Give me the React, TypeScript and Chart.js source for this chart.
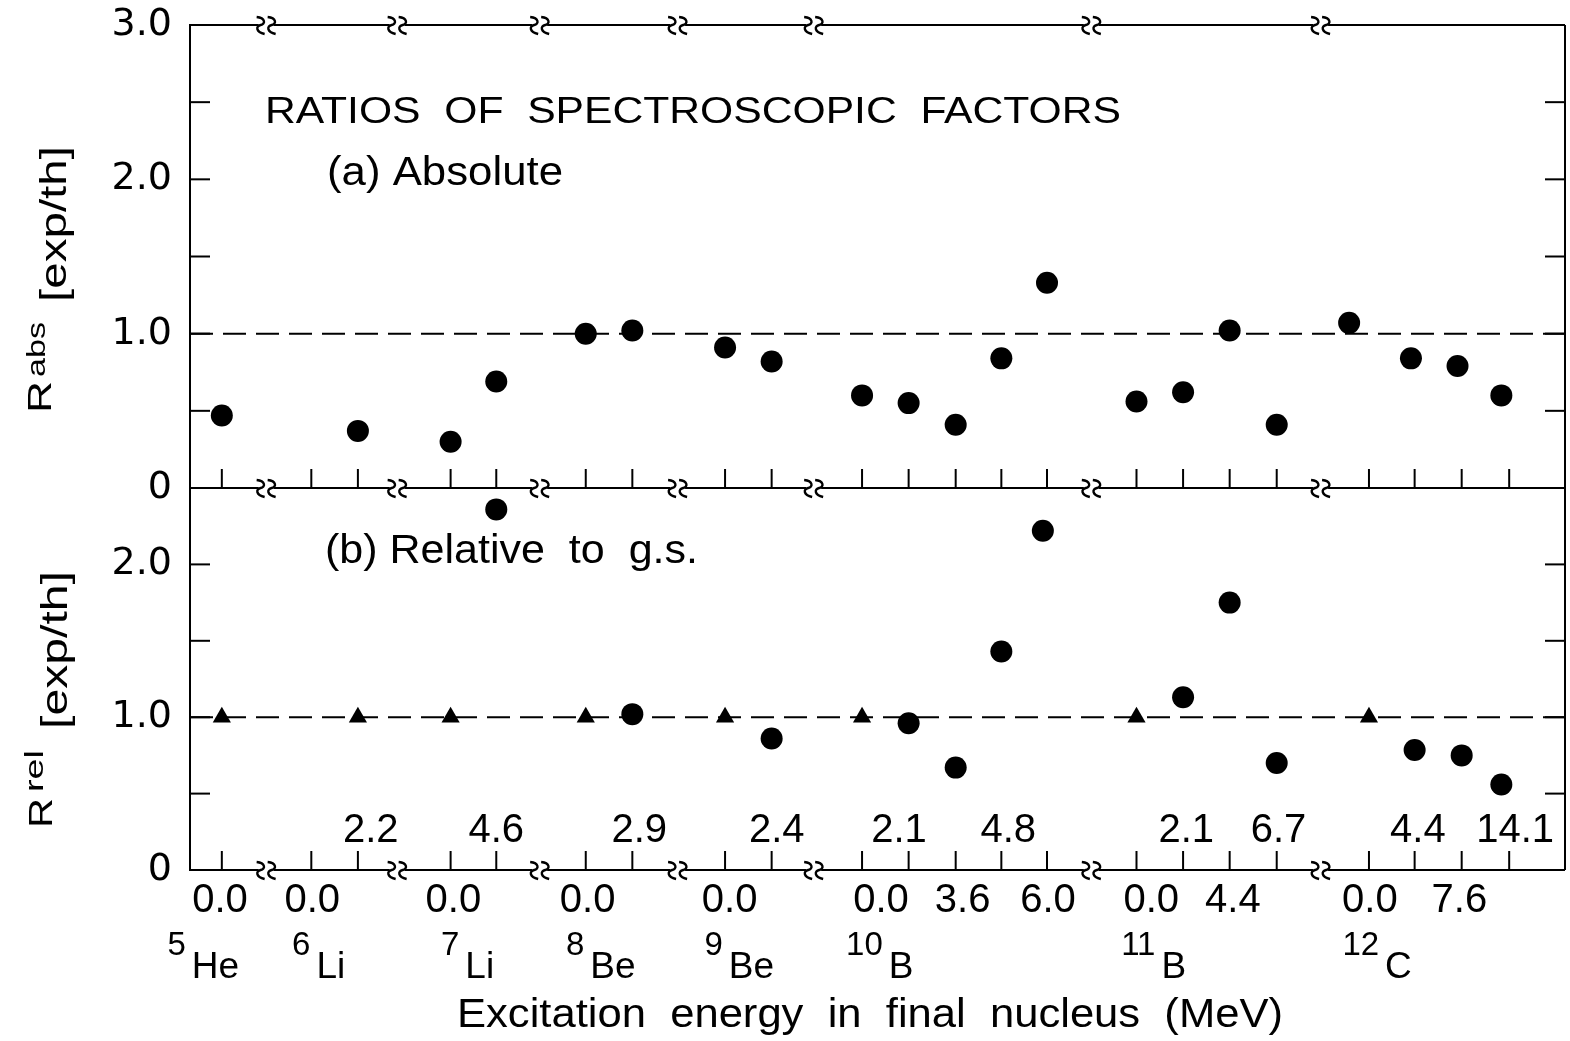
import React, { useEffect, useRef } from 'react';
import { Chart, registerables } from 'chart.js';

Chart.register(...registerables);

const FONT = '"Liberation Sans", Arial, sans-serif';
const TICK_FONT = '"DejaVu Sans", sans-serif';

// Positions along the (broken) excitation-energy axis, in "slot" units
const X_MIN = -0.69;
const X_MAX = 29.12;
const tickSlots = [0, 1.94, 2.95, 4.96, 5.95, 7.89, 8.9, 10.91, 11.92, 13.88, 14.89, 15.91, 16.9, 17.89, 19.83, 20.84, 21.85, 22.87, 24.87, 25.86, 26.88, 27.91];
const breakSlots = [0.95, 3.79, 6.88, 9.87, 12.82, 18.84, 23.81];

// (a) absolute ratios
const absSlots = [0, 2.95, 4.96, 5.95, 7.89, 8.9, 10.91, 11.92, 13.88, 14.89, 15.91, 16.9, 17.89, 19.83, 20.84, 21.85, 22.87, 24.44, 25.78, 26.79, 27.74];
const absValues = [0.47, 0.37, 0.3, 0.69, 1.0, 1.02, 0.91, 0.82, 0.6, 0.55, 0.41, 0.84, 1.33, 0.56, 0.62, 1.02, 0.41, 1.07, 0.84, 0.79, 0.6];

// (b) relative to ground state: g.s. reference triangles
const gsSlots = [0, 2.95, 4.96, 7.89, 10.91, 13.88, 19.83, 24.87];
const gsValues = [1, 1, 1, 1, 1, 1, 1, 1];

// (b) relative ratios of excited states
const relSlots = [5.95, 8.9, 11.92, 14.89, 15.91, 16.9, 17.8, 20.84, 21.85, 22.87, 25.86, 26.88, 27.74];
const relValues = [2.36, 1.02, 0.86, 0.96, 0.67, 1.43, 2.22, 1.13, 1.75, 0.7, 0.785, 0.75, 0.56];

// annotation texts
const upperEnergyLabels = ['2.2', '4.6', '2.9', '2.4', '2.1', '4.8', '2.1', '6.7', '4.4', '14.1'];
const upperEnergySlots = [3.23, 5.95, 9.05, 12.03, 14.68, 17.05, 20.91, 22.91, 25.93, 28.04];
const lowerEnergyLabels = ['0.0', '0.0', '0.0', '0.0', '0.0', '0.0', '3.6', '6.0', '0.0', '4.4', '0.0', '7.6'];
const lowerEnergySlots = [-0.04, 1.96, 5.02, 7.93, 11.01, 14.29, 16.06, 17.91, 20.15, 21.92, 24.89, 26.83];
const nucleusMass = ['5', '6', '7', '8', '9', '10', '11', '12'];
const nucleusElement = ['He', 'Li', 'Li', 'Be', 'Be', 'B', 'B', 'C'];
const nucleusSlots = [-0.65, 2.05, 5.28, 7.99, 10.99, 14.46, 20.37, 25.22];

const TITLE = 'RATIOS  OF  SPECTROSCOPIC  FACTORS';
const PANEL_A = '(a) Absolute';
const PANEL_B = '(b) Relative  to  g.s.';
const X_TITLE = 'Excitation  energy  in  final  nucleus  (MeV)';

function fitText(ctx: CanvasRenderingContext2D, s: string, x: number, y: number, size: number, width?: number, align: CanvasTextAlign = 'left', family: string = FONT) {
  ctx.font = `${size}px ${family}`;
  ctx.textBaseline = 'alphabetic';
  const w = ctx.measureText(s).width;
  const sx = width ? width / w : 1;
  ctx.save();
  ctx.translate(x, y);
  ctx.scale(sx, 1);
  ctx.textAlign = align;
  ctx.fillText(s, 0, 0);
  ctx.restore();
}

function line(ctx: CanvasRenderingContext2D, x1: number, y1: number, x2: number, y2: number) {
  ctx.beginPath();
  ctx.moveTo(x1, y1);
  ctx.lineTo(x2, y2);
  ctx.stroke();
}

function squiggle(ctx: CanvasRenderingContext2D, x: number, y: number) {
  ctx.beginPath();
  ctx.moveTo(x - 4, y - 8);
  ctx.bezierCurveTo(x + 5, y - 7, x + 5, y - 1, x, y);
  ctx.bezierCurveTo(x - 5, y + 1, x - 5, y + 7, x + 4, y + 9);
  ctx.stroke();
}

function yTitle(ctx: CanvasRenderingContext2D, bottom: number, parts: { s: string; size: number; base: number; len: number; gapBefore: number }[]) {
  let pos = bottom;
  parts.forEach((p) => {
    pos -= p.gapBefore;
    ctx.save();
    ctx.translate(p.base, pos);
    ctx.rotate(-Math.PI / 2);
    ctx.font = `${p.size}px ${FONT}`;
    ctx.textBaseline = 'alphabetic';
    ctx.textAlign = 'left';
    const w = ctx.measureText(p.s).width;
    ctx.scale(p.len / w, 1);
    ctx.fillText(p.s, 0, 0);
    ctx.restore();
    pos -= p.len;
  });
}

const decorPlugin = {
  id: 'decor',
  afterDraw(chart: any) {
    const ctx: CanvasRenderingContext2D = chart.ctx;
    const xs = chart.scales.x;
    const ya = chart.scales.ya;
    const yb = chart.scales.yb;
    const L = chart.chartArea.left;
    const R = chart.chartArea.right;
    const yTop = ya.getPixelForValue(3);
    const yMid = ya.getPixelForValue(0);
    const yBot = yb.getPixelForValue(0);
    ctx.save();
    ctx.strokeStyle = '#000';
    ctx.fillStyle = '#000';
    ctx.lineWidth = 2;

    // horizontal axes with breaks
    const breaksPx = breakSlots.map((v) => xs.getPixelForValue(v));
    [yTop, yMid, yBot].forEach((y) => {
      let start = L - 1;
      breaksPx.forEach((bx) => {
        line(ctx, start, y, bx - 7, y);
        ctx.lineWidth = 2.4;
        squiggle(ctx, bx - 5, y);
        squiggle(ctx, bx + 6, y);
        ctx.lineWidth = 2;
        start = bx + 8;
      });
      line(ctx, start, y, R, y);
    });

    // x ticks (pointing up, into each panel)
    tickSlots.forEach((v) => {
      const px = xs.getPixelForValue(v);
      [yMid, yBot].forEach((y) => line(ctx, px, y, px, y - 19));
    });

    // y ticks on left and right axes
    [ya, yb].forEach((s: any) => {
      for (let v = s.min + 0.5; v < s.max - 0.01; v += 0.5) {
        const py = s.getPixelForValue(v);
        line(ctx, L, py, L + 20, py);
        line(ctx, R - 20, py, R, py);
      }
    });
    line(ctx, R, yTop, R, yBot);

    // panel texts
    fitText(ctx, TITLE, 265, 123, 36, 856);
    fitText(ctx, PANEL_A, 327, 185, 41, 236);
    fitText(ctx, PANEL_B, 325, 563, 41, 373);

    // energies above the lower axis
    upperEnergyLabels.forEach((s, i) => {
      fitText(ctx, s, xs.getPixelForValue(upperEnergySlots[i]), 842, 40, undefined, 'center');
    });
    // energies below the lower axis
    lowerEnergyLabels.forEach((s, i) => {
      fitText(ctx, s, xs.getPixelForValue(lowerEnergySlots[i]), 912, 40, undefined, 'center');
    });
    // nuclei
    nucleusElement.forEach((el, i) => {
      const px = xs.getPixelForValue(nucleusSlots[i]);
      fitText(ctx, el, px, 978, 37, undefined, 'left');
      fitText(ctx, nucleusMass[i], px - 6, 955, 33, undefined, 'right');
    });

    fitText(ctx, X_TITLE, 457, 1027, 40, 826);

    // y-axis titles
    yTitle(ctx, 413, [
      { s: 'R', size: 33, base: 51, len: 32, gapBefore: 0 },
      { s: 'abs', size: 26, base: 45, len: 55, gapBefore: 4 },
      { s: '[exp/th]', size: 36, base: 66, len: 156, gapBefore: 20 },
    ]);
    yTitle(ctx, 828, [
      { s: 'R', size: 33, base: 52, len: 30, gapBefore: 0 },
      { s: 'rel', size: 26, base: 43, len: 42, gapBefore: 6 },
      { s: '[exp/th]', size: 36, base: 67, len: 158, gapBefore: 21 },
    ]);
    ctx.restore();
  },
};

function tickCb(value: any) {
  const v = Number(value);
  if (Math.abs(v - Math.round(v)) > 1e-6) return '';
  if (v === 0) return '0';
  return v.toFixed(1);
}

function fixFit(s: any) {
  s.width = 190;
  s.paddingTop = 0;
  s.paddingBottom = 0;
}

const yTicks = {
  stepSize: 0.5,
  autoSkip: false,
  color: '#000',
  padding: 18,
  font: { family: TICK_FONT, size: 38 },
  callback: tickCb,
};

export default function App() {
  const ref = useRef<HTMLCanvasElement>(null);
  useEffect(() => {
    const canvas = ref.current!;
    const pts = (xs: number[], ys: number[]) => xs.map((x, i) => ({ x, y: ys[i] }));
    const chart = new Chart(canvas, {
      type: 'scatter',
      data: {
        datasets: [
          {
            label: 'abs',
            data: pts(absSlots, absValues),
            yAxisID: 'ya',
            pointStyle: 'circle',
            pointRadius: 11,
            backgroundColor: '#000',
            borderColor: '#000',
            borderWidth: 0,
            order: 1,
          },
          {
            label: 'gs',
            data: pts(gsSlots, gsValues),
            yAxisID: 'yb',
            pointStyle: 'triangle',
            pointRadius: 10.5,
            backgroundColor: '#000',
            borderColor: '#000',
            borderWidth: 0,
            order: 1,
          },
          {
            label: 'rel',
            data: pts(relSlots, relValues),
            yAxisID: 'yb',
            pointStyle: 'circle',
            pointRadius: 11,
            backgroundColor: '#000',
            borderColor: '#000',
            borderWidth: 0,
            order: 1,
          },
          {
            label: 'unityA',
            type: 'line',
            data: [{ x: X_MIN, y: 1 }, { x: X_MAX, y: 1 }],
            yAxisID: 'ya',
            borderColor: '#000',
            borderWidth: 2,
            borderDash: [23, 10],
            pointRadius: 0,
            order: 5,
          } as any,
          {
            label: 'unityB',
            type: 'line',
            data: [{ x: X_MIN, y: 1 }, { x: X_MAX, y: 1 }],
            yAxisID: 'yb',
            borderColor: '#000',
            borderWidth: 2,
            borderDash: [23, 10],
            pointRadius: 0,
            order: 5,
          } as any,
        ],
      },
      options: {
        responsive: false,
        animation: false,
        events: [],
        layout: { padding: { left: 0, top: 25, right: 3, bottom: 171 } },
        plugins: { legend: { display: false }, tooltip: { enabled: false } },
        scales: {
          x: { type: 'linear', min: X_MIN, max: X_MAX, display: false },
          yb: {
            type: 'linear',
            position: 'left',
            stack: 'v',
            stackWeight: 382,
            min: 0,
            max: 2.5,
            ticks: yTicks,
            grid: { display: false, drawTicks: false },
            border: { display: true, color: '#000', width: 2 },
            afterFit: fixFit,
          },
          ya: {
            type: 'linear',
            position: 'left',
            stack: 'v',
            stackWeight: 463,
            min: 0,
            max: 3,
            ticks: yTicks,
            grid: { display: false, drawTicks: false },
            border: { display: true, color: '#000', width: 2 },
            afterFit: fixFit,
          },
        },
      } as any,
      plugins: [decorPlugin],
    });
    return () => chart.destroy();
  }, []);
  return (
    <div style={{ position: 'fixed', left: 0, top: 0, width: 1570, height: 1041, overflow: 'hidden', background: '#fff' }}>
      <canvas ref={ref} width={1576} height={1041} style={{ display: 'block', width: 1576, height: 1041 }} />
    </div>
  );
}
